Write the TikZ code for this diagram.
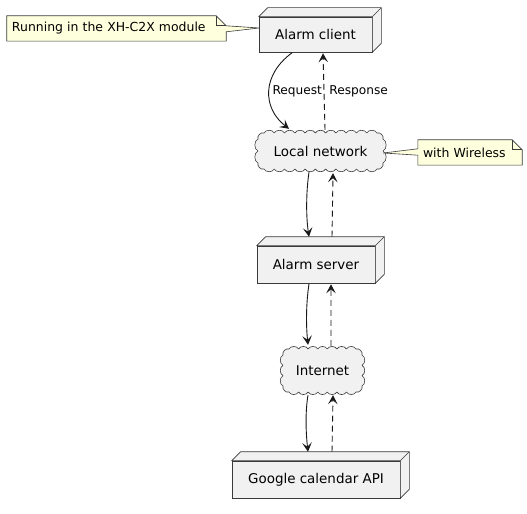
\documentclass[tikz,border=0pt]{standalone}
\usepackage{fontspec}
\setmainfont{DejaVu Sans}
\usetikzlibrary{arrows.meta,calc,backgrounds}
\definecolor{nodefill}{HTML}{F1F1F1}
\definecolor{notefill}{HTML}{FEFFDD}
\definecolor{edgecol}{HTML}{181818}
\definecolor{bordercol}{HTML}{3A3A3A}
\newcommand\boxfaces[1]{%
  \filldraw[face] (#1.north west) -- ++(9,-9) -- ($(#1.north east)+(9,-9)$) -- ($(#1.south east)+(9,-9)$) -- (#1.south east) -- (#1.north east) -- cycle;
  \draw[face] (#1.north east) -- ++(9,-9);}
% cloud outline: #1 node, #2 half width, #3 half height, #4 top bumps, #5 side bumps
\newcommand\cloudoutline[5]{%
  \begin{scope}[shift={(#1.center)}]
  \pgfmathsetmacro\cwa{#2-6}\pgfmathsetmacro\cha{#3-6}
  \path[cloudline] (-\cwa,-#3)
    \foreach \i in {1,...,#4} { to[bump] ({-\cwa+\i*2*\cwa/#4},-#3) }
    to[bump] (#2,-\cha)
    \foreach \i in {1,...,#5} { to[bump] (#2,{-\cha+\i*2*\cha/#5}) }
    to[bump] (\cwa,#3)
    \foreach \i in {1,...,#4} { to[bump] ({\cwa-\i*2*\cwa/#4},#3) }
    to[bump] (-#2,\cha)
    \foreach \i in {1,...,#5} { to[bump] (-#2,{\cha-\i*2*\cha/#5}) }
    to[bump] (-\cwa,-#3) -- cycle;
  \end{scope}}
\begin{document}
\begin{tikzpicture}[x=1bp,y=-1bp,
  box/.style={draw=bordercol, line width=0.6bp, fill=nodefill, inner sep=0pt, font=\fontsize{13.5}{16}\selectfont},
  face/.style={draw=bordercol, line width=0.6bp, fill=nodefill, line join=round},
  cloudtext/.style={inner sep=0pt, font=\fontsize{13.5}{16}\selectfont},
  cloudline/.style={draw=bordercol, line width=0.6bp, fill=nodefill, line join=round},
  bump/.style={bend left=65},
  notetext/.style={inner xsep=5bp, inner ysep=0pt, align=left, minimum height=25bp, font=\fontsize{12.5}{15}\selectfont},
  noteline/.style={draw=bordercol, line width=0.6bp, fill=notefill, line join=miter},
  lbl/.style={inner sep=0pt, font=\fontsize{12.2}{14}\selectfont},
  tip/.style={-{Stealth[length=9bp, width=9.5bp, inset=4bp]}},
  solidarrow/.style={draw=edgecol, line width=0.9bp, tip},
  dasharrow/.style={draw=edgecol, line width=0.9bp, dash pattern=on 6bp off 4bp, tip}
]
\useasboundingbox (0,0) rectangle (527,514);

% nodes
\node[box, minimum width=113bp, minimum height=35bp] (client) at (315.5,34.5) {Alarm client};
\boxfaces{client}
\node[cloudtext, minimum width=125bp, minimum height=36bp] (lan) at (320.5,151) {Local network};
\node[box, minimum width=118bp, minimum height=37bp] (server) at (316,264.5) {Alarm server};
\boxfaces{server}
\node[cloudtext, minimum width=79bp, minimum height=43bp] (inet) at (322.5,370.5) {Internet};
\node[box, minimum width=168bp, minimum height=37bp] (google) at (316,479.5) {Google calendar API};
\boxfaces{google}

\node[notetext, text width=209bp] (n1) at (116.5,28.5) {Running in the XH-C2X module};
\node[notetext, text width=94bp] (n2) at (470,152.5) {with Wireless};

\begin{scope}[on background layer]
  \cloudoutline{lan}{62.5}{18}{11}{2}
  \cloudoutline{inet}{39.5}{21.5}{7}{3}
  \path[noteline] (n1.north west) -- ($(n1.north east)+(-10,0)$) -- ($(n1.north east)+(0,10)$) -- ($(client.west)+(0.5,-6.5)$) -- ($(n1.north east)+(0,16)$) -- (n1.south east) -- (n1.south west) -- cycle;
  \draw[noteline, fill=none] ($(n1.north east)+(-10,0)$) -- ($(n1.north east)+(-10,10)$) -- ($(n1.north east)+(0,10)$);
  \path[noteline] (n2.north west) -- ($(n2.north east)+(-10,0)$) -- ($(n2.north east)+(0,10)$) -- (n2.south east) -- (n2.south west) -- ($(n2.south west)+(0,-10)$) -- ($(lan.east)+(0,2)$) -- ($(n2.north west)+(0,9)$) -- cycle;
  \draw[noteline, fill=none] ($(n2.north east)+(-10,0)$) -- ($(n2.north east)+(-10,10)$) -- ($(n2.north east)+(0,10)$);
\end{scope}

% connectors
\draw[solidarrow] ($(client.south)+(-23.5,0.5)$) .. controls +(-30,22) and +(-27,-21) .. node[lbl, anchor=west, xshift=3bp] (req) {Request} ($(lan.north)+(-31.5,-4)$);
\draw[dasharrow] ($(lan.north)+(4.5,-3)$) -- node[lbl, anchor=west, xshift=5bp] (resp) {Response} ($(client.south)+(7.5,1)$);

\draw[solidarrow] ($(lan.south)+(-11.5,3)$) .. controls +(-3,20) and +(-3,-20) .. ($(server.north)+(-7,-9)$);
\draw[dasharrow] ($(server.north)+(16,-9)$) -- ($(lan.south)+(12.5,4)$);

\draw[solidarrow] ($(server.south)+(-7,0.5)$) .. controls +(-3,20) and +(-2,-20) .. ($(inet.north)+(-14.5,-4)$);
\draw[dasharrow] ($(inet.north)+(8.5,-3)$) -- ($(server.south)+(15,1)$);

\draw[solidarrow] ($(inet.south)+(-14.5,3)$) .. controls +(-3,18) and +(-2,-18) .. ($(google.north)+(-8,-9)$);
\draw[dasharrow] ($(google.north)+(16,-9)$) -- ($(inet.south)+(10.5,3)$);
\end{tikzpicture}
\end{document}
